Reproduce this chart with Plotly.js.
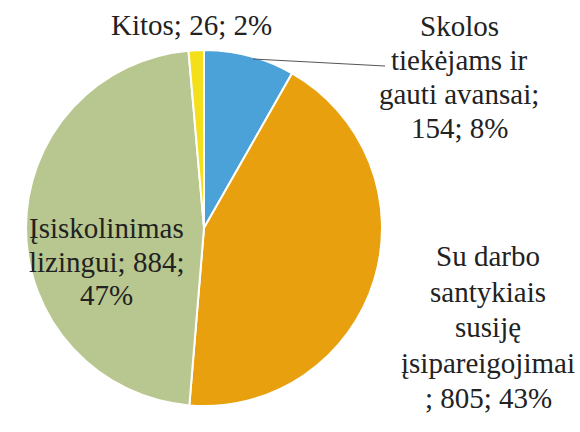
<!DOCTYPE html>
<html><head><meta charset="utf-8">
<script src="https://cdn.plot.ly/plotly-3.0.1.min.js"></script>
<style>html,body{margin:0;padding:0;background:#fff}#c{width:580px;height:432px}</style>
</head><body><div id="c"></div>
<script>
const labels = ["Skolos tiekėjams ir gauti avansai", "Su darbo santykiais susiję įsipareigojimai", "Įsiskolinimas lizingui", "Kitos"];
const values = [154, 805, 884, 26];
const percents = ["8%", "43%", "47%", "2%"];
const colors = ["#4aa2d9", "#e9a00e", "#b7c78f", "#f4e01a"];
const labelLines = [
  ["Skolos", "tiekėjams ir", "gauti avansai;", values[0] + "; " + percents[0]],
  ["Su darbo", "santykiais", "susiję", "įsipareigojimai", "; " + values[1] + "; " + percents[1]],
  ["Įsiskolinimas", "lizingui; " + values[2] + ";", percents[2]],
  ["Kitos; " + values[3] + "; " + percents[3]]
];
const labelPos = [[459, 26, 34], [488, 256, 35.5], [106, 228, 33.5], [191, 25, 0]];

const W = 580, H = 432;
const annotations = [];
for (let i = 0; i < labelLines.length; i++) {
  for (let j = 0; j < labelLines[i].length; j++) {
    annotations.push({
      xref: "paper", yref: "paper",
      x: labelPos[i][0] / W, y: 1 - (labelPos[i][1] + j * labelPos[i][2]) / H,
      xanchor: "center", yanchor: "middle", showarrow: false, text: labelLines[i][j],
      font: {family: "Times New Roman", size: 29, color: "#222222"}
    });
  }
}

const trace = {
  type: "pie", labels: labels, values: values, sort: false,
  direction: "clockwise", rotation: 0, textinfo: "none",
  marker: {colors: colors, line: {color: "#ffffff", width: 2}},
  domain: {x: [(204 - 178) / W, (204 + 178) / W], y: [(H - 228 - 178) / H, (H - 228 + 178) / H]},
  showlegend: false
};

const layout = {
  width: W, height: H, margin: {l: 0, r: 0, t: 0, b: 0},
  font: {family: "Times New Roman"},
  annotations: annotations,
  shapes: [{type: "line", xref: "paper", yref: "paper",
    x0: 253 / W, y0: 1 - 59 / H, x1: 385 / W, y1: 1 - 66 / H,
    line: {color: "#555555", width: 1}}]
};
Plotly.newPlot("c", [trace], layout, {displayModeBar: false});
</script></body></html>
